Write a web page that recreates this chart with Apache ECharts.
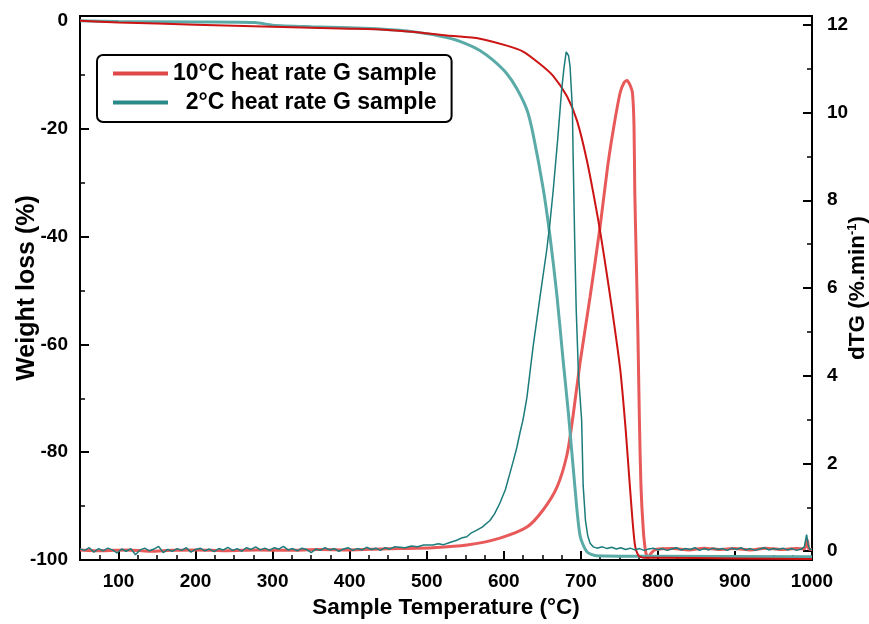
<!DOCTYPE html>
<html>
<head>
<meta charset="utf-8">
<script src="https://cdn.jsdelivr.net/npm/echarts@6/dist/echarts.min.js"></script>
<style>html,body{margin:0;padding:0;background:#fff;}#c{width:869px;height:624px;}</style>
</head>
<body>
<div id="c"></div>
<script>
// ---- data ----
const name10 = '10°C heat rate G sample';
const name2 = '2°C heat rate G sample';

const xLabels = [100, 200, 300, 400, 500, 600, 700, 800, 900, 1000];
const xMinorTicks = [75, 125, 150, 175, 225, 250, 275, 325, 350, 375, 425, 450, 475, 525, 550, 575, 625, 650, 675, 725, 750, 775, 825, 850, 875, 925, 950, 975];
const leftLabels = [-100, -80, -60, -40, -20, 0];
const leftMinorTicks = [-90, -70, -50, -30, -10];
const rightLabels = [0, 2, 4, 6, 8, 10, 12];
const rightMinorTicks = [1, 3, 5, 7, 9, 11];

// Weight loss, 10°C
const tg10T = [50, 100, 200, 300, 400, 440, 480, 526, 569, 604, 625, 647, 664, 682, 695, 708, 722, 730, 740, 751, 758, 764, 770, 775, 782, 800, 900, 1000];
const tg10W = [0, -0.3, -0.7, -1.1, -1.45, -1.6, -2.0, -2.7, -3.3, -4.6, -5.7, -8, -10.2, -14, -18.5, -26, -36.5, -43.5, -53, -64.5, -75.5, -87, -97, -99.2, -99.6, -99.6, -99.7, -99.8];

// Weight loss, 2°C
const tg2T = [50, 100, 200, 277, 300, 350, 400, 439, 482, 526, 552, 569, 586, 604, 617, 630, 638, 651, 660, 669, 677, 684, 692, 699, 708, 720, 800, 1000];
const tg2W = [0, -0.1, -0.2, -0.3, -0.8, -1.1, -1.3, -1.5, -2.0, -3.1, -4.3, -5.5, -7.3, -9.8, -12.6, -16.5, -21, -31, -40, -51, -63, -73, -86, -95.5, -98.5, -99.2, -99.3, -99.4];

// dTG, 10°C
const d10T = [50, 80, 110, 140, 170, 200, 240, 280, 320, 360, 400, 440, 465, 508, 552, 595, 630, 651, 669, 682, 690, 699, 712, 725, 735, 743, 751, 756, 760, 764, 767, 769, 770, 772, 774, 776, 778, 781, 784, 787, 791, 797, 820, 840, 860, 880, 900, 920, 940, 960, 980, 990, 994, 996, 1000];
const d10V = [0.03, 0.01, 0.03, 0.0, 0.02, 0.03, 0.01, 0.03, 0.02, 0.04, 0.03, 0.05, 0.06, 0.08, 0.14, 0.3, 0.55, 0.94, 1.46, 2.2, 3.1, 4.3, 5.8, 7.4, 8.8, 9.7, 10.45, 10.68, 10.73, 10.62, 10.45, 9.7, 8.2, 6.6, 5.0, 3.0, 1.5, 0.5, 0.0, -0.15, -0.05, 0.04, 0.06, 0.03, 0.07, 0.04, 0.06, 0.03, 0.07, 0.04, 0.06, 0.05, 0.25, 0.05, 0.04];

// dTG, 2°C
const d2T = [50, 56, 62, 68, 74, 80, 86, 92, 98, 104, 110, 116, 122, 128, 134, 140, 146, 152, 158, 164, 170, 176, 182, 188, 194, 200, 206, 212, 218, 224, 230, 236, 242, 248, 254, 260, 266, 272, 278, 284, 290, 296, 302, 308, 314, 320, 326, 332, 338, 344, 350, 356, 362, 368, 374, 380, 386, 392, 398, 404, 410, 416, 422, 428, 434, 440, 446, 452, 458, 465, 472, 480, 488, 496, 508, 515, 522, 530, 539, 545, 552, 558, 565, 572, 582, 588, 595, 602, 608, 613, 617, 621, 625, 630, 638, 647, 656, 660, 664, 670, 675, 678, 681, 684, 686, 689, 690, 692, 694, 697, 701, 703, 706, 709, 712, 716, 721, 728, 734, 740, 746, 752, 758, 764, 770, 776, 782, 788, 794, 800, 806, 812, 818, 824, 830, 836, 842, 848, 854, 860, 866, 872, 878, 884, 890, 896, 902, 908, 914, 920, 926, 932, 938, 944, 950, 956, 962, 968, 974, 980, 986, 990, 993, 995, 997, 1000];
const d2V = [0.05, 0.02, 0.08, -0.02, 0.06, 0.01, 0.07, 0.03, -0.04, 0.05, 0.0, 0.06, -0.08, 0.03, 0.07, 0.01, 0.05, 0.11, -0.03, 0.04, 0.0, 0.06, 0.02, 0.08, -0.02, 0.04, 0.07, 0.01, 0.05, -0.01, 0.06, 0.03, 0.09, 0.02, 0.06, 0.0, 0.08, 0.04, 0.1, 0.03, 0.07, 0.02, 0.08, 0.05, 0.11, 0.03, 0.06, 0.01, 0.07, 0.04, -0.03, 0.05, 0.02, 0.08, 0.03, 0.06, 0.0, 0.05, 0.08, 0.02, 0.06, 0.03, 0.09, 0.04, 0.07, 0.02, 0.08, 0.05, 0.1, 0.09, 0.08, 0.12, 0.1, 0.14, 0.14, 0.17, 0.15, 0.2, 0.25, 0.3, 0.33, 0.42, 0.48, 0.55, 0.7, 0.85, 1.1, 1.4, 1.78, 2.1, 2.37, 2.7, 3.0, 3.5, 4.66, 5.8, 6.9, 7.5, 8.2, 9.4, 10.5, 11.0, 11.38, 11.3, 11.05, 10.1, 9.0, 7.1, 5.5, 4.0, 3.0, 1.5, 0.7, 0.35, 0.18, 0.1, 0.07, 0.1, 0.06, 0.09, 0.05, 0.08, 0.04, 0.07, 0.03, 0.06, 0.02, 0.05, 0.07, 0.03, 0.06, 0.02, 0.05, 0.08, 0.03, 0.06, 0.04, 0.08, 0.02, 0.06, 0.03, 0.07, 0.04, 0.06, 0.02, 0.07, 0.04, 0.08, 0.03, 0.06, 0.02, 0.05, 0.08, 0.03, 0.06, 0.04, 0.07, 0.03, 0.06, 0.02, 0.05, 0.1, 0.38, 0.15, 0.05, 0.04];

// ---- build ----
const zip = (a, b) => a.map((v, i) => [v, b[i]]);
const FONT = "'Liberation Sans', Arial, sans-serif";
const BLACK = '#000';

const chart = echarts.init(document.getElementById('c'), null, {renderer: 'canvas'});

const baseX = {type: 'value', min: 50, max: 1000, gridIndex: 0, position: 'bottom', splitLine: {show: false}};
const baseLeft = {type: 'value', min: -100, max: 0.9, position: 'left', splitLine: {show: false}};
const baseRight = {type: 'value', min: -0.2, max: 12.2, position: 'right', splitLine: {show: false}};
const labelStyle = {fontSize: 19, fontWeight: 'bold', fontFamily: FONT, color: BLACK, formatter: v => String(v)};
const titleStyle = {fontSize: 22.5, fontWeight: 'bold', fontFamily: FONT, color: BLACK};

const option = {
  animation: false,
  backgroundColor: '#fff',
  grid: {left: 80, right: 57, top: 16, bottom: 64, show: true, borderColor: BLACK, borderWidth: 2,
         backgroundColor: 'transparent', containLabel: false, outerBoundsMode: 'none'},
  legend: {
    orient: 'vertical', left: 97, top: 55,
    padding: [7, 15, 8, 16], itemGap: 6, itemWidth: 55, itemHeight: 4, itemTextGap: 7,
    borderColor: BLACK, borderWidth: 2, borderRadius: 6, backgroundColor: '#fff',
    textStyle: {fontSize: 23, fontWeight: 'bold', fontFamily: FONT, color: BLACK},
    formatter: n => (n === name2 ? '  ' + n : n),
    data: [
      {name: name10, icon: 'rect', itemStyle: {color: '#e04848'}},
      {name: name2, icon: 'rect', itemStyle: {color: '#2a8a88'}}
    ]
  },
  xAxis: [
    Object.assign({}, baseX, {
      name: 'Sample Temperature (°C)', nameLocation: 'middle', nameGap: 36, nameMoveOverlap: false, nameTextStyle: titleStyle,
      axisLine: {show: true, onZero: false, lineStyle: {color: BLACK, width: 2}},
      axisTick: {show: true, inside: true, length: 9, customValues: xLabels, lineStyle: {color: BLACK, width: 2}},
      axisLabel: Object.assign({show: true, customValues: xLabels, margin: 12}, labelStyle)
    }),
    Object.assign({}, baseX, {
      axisLine: {show: false, onZero: false},
      axisTick: {show: true, inside: true, length: 5, customValues: xMinorTicks, lineStyle: {color: BLACK, width: 1.5}},
      axisLabel: {show: false}
    })
  ],
  yAxis: [
    Object.assign({}, baseLeft, {
      name: 'Weight loss (%)', nameLocation: 'middle', nameGap: 40, nameMoveOverlap: false,
      nameTextStyle: Object.assign({}, titleStyle, {fontSize: 25}),
      axisLine: {show: true, onZero: false, lineStyle: {color: BLACK, width: 2}},
      axisTick: {show: true, inside: true, length: 9, customValues: leftLabels, lineStyle: {color: BLACK, width: 2}},
      axisLabel: Object.assign({show: true, customValues: leftLabels, margin: 12}, labelStyle)
    }),
    Object.assign({}, baseLeft, {
      axisLine: {show: false, onZero: false},
      axisTick: {show: true, inside: true, length: 5, customValues: leftMinorTicks, lineStyle: {color: BLACK, width: 1.5}},
      axisLabel: {show: false}
    }),
    Object.assign({}, baseRight, {
      name: 'dTG (%.min{sup|-1})', nameLocation: 'middle', nameGap: 34, nameMoveOverlap: false,
      nameTextStyle: Object.assign({}, titleStyle, {rich: {sup: {fontSize: 13, fontWeight: 'bold', fontFamily: FONT, color: BLACK, verticalAlign: 'top', padding: [0, 0, 10, 0]}}}),
      axisLine: {show: true, onZero: false, lineStyle: {color: BLACK, width: 2}},
      axisTick: {show: true, inside: true, length: 9, customValues: rightLabels, lineStyle: {color: BLACK, width: 2}},
      axisLabel: Object.assign({show: true, customValues: rightLabels, margin: 15}, labelStyle)
    }),
    Object.assign({}, baseRight, {
      axisLine: {show: false, onZero: false},
      axisTick: {show: true, inside: true, length: 5, customValues: rightMinorTicks, lineStyle: {color: BLACK, width: 1.5}},
      axisLabel: {show: false}
    })
  ],
  series: [
    {name: name10, type: 'line', xAxisIndex: 0, yAxisIndex: 0, data: zip(tg10T, tg10W), showSymbol: false, symbol: 'none',
     smooth: 0.25, lineStyle: {color: '#cc1414', width: 2}, itemStyle: {color: '#cc1414'}, z: 3},
    {name: name10, type: 'line', xAxisIndex: 0, yAxisIndex: 2, data: zip(d10T, d10V), showSymbol: false, symbol: 'none',
     smooth: 0.25, lineStyle: {color: '#e85a5a', width: 3}, itemStyle: {color: '#e85a5a'}, z: 2},
    {name: name2, type: 'line', xAxisIndex: 0, yAxisIndex: 0, data: zip(tg2T, tg2W), showSymbol: false, symbol: 'none',
     smooth: 0.25, lineStyle: {color: '#5aaba8', width: 3}, itemStyle: {color: '#5aaba8'}, z: 2},
    {name: name2, type: 'line', xAxisIndex: 0, yAxisIndex: 2, data: zip(d2T, d2V), showSymbol: false, symbol: 'none',
     lineStyle: {color: '#1c7b7b', width: 1.5}, itemStyle: {color: '#1c7b7b'}, z: 3}
  ]
};
chart.setOption(option);
</script>
</body>
</html>
